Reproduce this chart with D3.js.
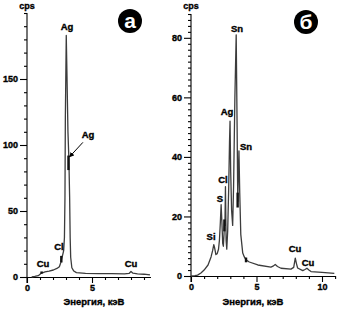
<!DOCTYPE html>
<html><head><meta charset="utf-8">
<script src="https://cdn.jsdelivr.net/npm/d3@7"></script>
<style>
body{margin:0;background:#fff;}
svg{display:block;font-family:"Liberation Sans",Arial,sans-serif;}
</style></head>
<body><svg id="c" width="343" height="313"></svg>
<script>
// ---------- DATA ----------
const energyA = [0.36,0.6,0.87,1.0,1.13,1.25,1.38,1.7,2.03,2.3,2.49,2.6,2.67,2.75,2.82,2.88,2.92,2.95,3.02,3.08,3.15,3.22,3.28,3.32,3.36,3.45,3.6,3.8,4.5,5.5,6.5,7.5,7.85,8.0,8.15,8.5,9.0,9.46];
const cpsA    = [0,0.4,1,2,3.3,3.4,3.8,4.5,5.3,6.5,7.8,11,14,17,20,30,60,120,183,150,110,90,60,30,15,7,4.5,3.3,2.8,2.6,2.5,2.4,2.7,4.2,2.9,2.4,2.1,1.6];
const energyB = [0,0.3,0.5,0.76,1.0,1.3,1.53,1.65,1.74,1.8,1.9,2.0,2.1,2.17,2.24,2.3,2.36,2.42,2.47,2.52,2.56,2.59,2.63,2.68,2.73,2.8,2.88,2.94,2.98,3.03,3.1,3.18,3.25,3.35,3.45,3.52,3.57,3.62,3.66,3.72,3.8,3.95,4.07,4.2,4.45,5.1,6.1,6.3,6.43,6.6,6.87,7.63,7.84,7.96,8.06,8.14,8.53,8.7,8.85,9.0,9.16,10.0,10.94];
const cpsB    = [0,0.1,0.3,1,2,3.7,6.4,8.5,10.5,9.5,7.2,7.5,9,12,18,24,18,11,10,14,18,17,30,12,9,15,30,45,52,35,22,17,30,60,81,50,25,35,42,28,14,7.7,6.4,5.4,4.7,3.7,3,3.4,3.9,3.2,2.6,2.3,2.9,6,4,2.7,1.8,2.2,2.6,2,1.5,1.2,0.9];

const yTicksA = [0,50,100,150];
const yTicksB = [0,20,40,60,80];
const xTicksA = [0,5];
const xTicksB = [0,5,10];

const labelTextA = ["Ag","Ag","Cl","Cu","Cu"];
const labelEA    = [3.08,4.7,2.46,1.23,8.0];
const labelCA    = [187,105,20.5,7.6,7.6];
const labelTextB = ["Sn","Ag","Sn","Cl","S","Si","Cu","Cu"];
const labelEB    = [3.51,2.75,4.2,2.44,2.21,1.53,7.94,8.93];
const labelCB    = [82,54,42.3,31.2,24.9,12.1,8.1,3.4];

// peak markers (energy, cps low, cps high)
const markA = [[1.12,2.4,4.2],[2.64,11,16],[3.19,81,92]];
const markB = [[2.55,15,19],[3.56,23,28],[4.2,4.6,6.2]];

const xTitle = "Энергия, кэВ";
const yTitle = "cps";

// ---------- DRAW ----------
const svg = d3.select("#c");
const heavy = s => s.attr("font-weight","bold").attr("fill","#000").attr("stroke","#000").attr("stroke-width",0.35);

function panel(o){
  const g = svg.append("g");
  const x = d3.scaleLinear().domain(o.xDom).range(o.xRange);
  const y = d3.scaleLinear().domain(o.yDom).range(o.yRange);

  const yMinor = d3.range(o.yDom[0], o.yDom[1]+0.001, o.yMinor).filter(v=>!o.yTicks.includes(v));
  const xMinor = d3.range(0, o.xDom[1]+0.001, 1).filter(v=>!o.xTicks.includes(v));

  const ya = d3.axisLeft(y).tickValues(o.yTicks).tickSize(7).tickSizeOuter(0).tickPadding(2).tickFormat(d3.format("d"));
  const yAxG = g.append("g").attr("transform",`translate(${o.xRange[0]},0)`).call(ya);
  const yMin = g.append("g").attr("transform",`translate(${o.xRange[0]},0)`)
     .call(d3.axisLeft(y).tickValues(yMinor).tickSize(3).tickSizeOuter(0).tickFormat(""));
  yMin.select(".domain").remove();
  yAxG.select(".domain").attr("d",`M0,${o.yRange[1]}V${o.yRange[0]+6}`);

  const xa = d3.axisBottom(x).tickValues(o.xTicks).tickSize(6).tickSizeOuter(0).tickPadding(2).tickFormat(d3.format("d"));
  const xAxG = g.append("g").attr("transform",`translate(0,${o.yRange[0]})`).call(xa);
  const xMin = g.append("g").attr("transform",`translate(0,${o.yRange[0]})`)
     .call(d3.axisBottom(x).tickValues(xMinor).tickSize(3).tickSizeOuter(0).tickFormat(""));
  xMin.select(".domain").remove();

  [yAxG,xAxG,yMin,xMin].forEach(a=>{
    a.selectAll("path,line").attr("stroke","#000").attr("stroke-width",1.1);
    a.selectAll("text").attr("font-size",9).attr("font-family","'Liberation Sans',Arial,sans-serif").call(heavy);
  });

  const pts = o.e.map((e,i)=>[e,o.c[i]]);
  g.append("path").datum(pts)
    .attr("fill","none").attr("stroke","#3c3c3c").attr("stroke-width",1.3).attr("stroke-linejoin","round")
    .attr("d", d3.line().x(d=>x(d[0])).y(d=>y(d[1])));

  g.selectAll(".mk").data(o.marks).enter().append("line")
    .attr("x1",d=>x(d[0])).attr("x2",d=>x(d[0])).attr("y1",d=>y(d[1])).attr("y2",d=>y(d[2]))
    .attr("stroke","#111").attr("stroke-width",2.4);

  g.selectAll(".lb").data(o.lt).enter().append("text")
    .attr("x",(d,i)=>x(o.le[i])).attr("y",(d,i)=>y(o.lc[i]))
    .attr("text-anchor","middle").attr("font-size",9.5).call(heavy)
    .text(d=>d);

  g.append("text").attr("x",o.xRange[0]).attr("y",9).attr("text-anchor","middle")
    .attr("font-size",9).call(heavy).text(yTitle);
  g.append("text").attr("x",o.titleX).attr("y",305).attr("text-anchor","middle")
    .attr("font-size",9.5).call(heavy).text(xTitle);

  g.append("circle").attr("cx",o.badge[0]).attr("cy",o.badge[1]).attr("r",12).attr("fill","#000");
  g.append("text").attr("x",o.badge[0]).attr("y",o.badge[1]+6.5).attr("text-anchor","middle")
    .attr("font-size",21).attr("font-weight","bold").attr("fill","#fff").text(o.badgeText);

  return {g,x,y};
}

const A = panel({xDom:[0,9.5], xRange:[27,150.5], yDom:[0,200], yRange:[277,13], yMinor:10,
  yTicks:yTicksA, xTicks:xTicksA, e:energyA, c:cpsA, marks:markA,
  lt:labelTextA, le:labelEA, lc:labelCA, titleX:94, badge:[130,21], badgeText:"а"});

const B = panel({xDom:[0,11], xRange:[191,335.1], yDom:[0,88], yRange:[276,14], yMinor:2,
  yTicks:yTicksB, xTicks:xTicksB, e:energyB, c:cpsB, marks:markB,
  lt:labelTextB, le:labelEB, lc:labelCB, titleX:253, badge:[306,22], badgeText:"б"});

const arrowFrom = [4.3,102], arrowTo = [3.27,91];
svg.append("defs").append("marker").attr("id","ah").attr("viewBox","0 0 10 10")
  .attr("refX",9).attr("refY",5).attr("markerWidth",5).attr("markerHeight",5).attr("orient","auto")
  .append("path").attr("d","M0,0L10,5L0,10z").attr("fill","#000");
A.g.append("line").attr("x1",A.x(arrowFrom[0])).attr("y1",A.y(arrowFrom[1]))
  .attr("x2",A.x(arrowTo[0])).attr("y2",A.y(arrowTo[1]))
  .attr("stroke","#000").attr("stroke-width",1).attr("marker-end","url(#ah)");
</script></body></html>
